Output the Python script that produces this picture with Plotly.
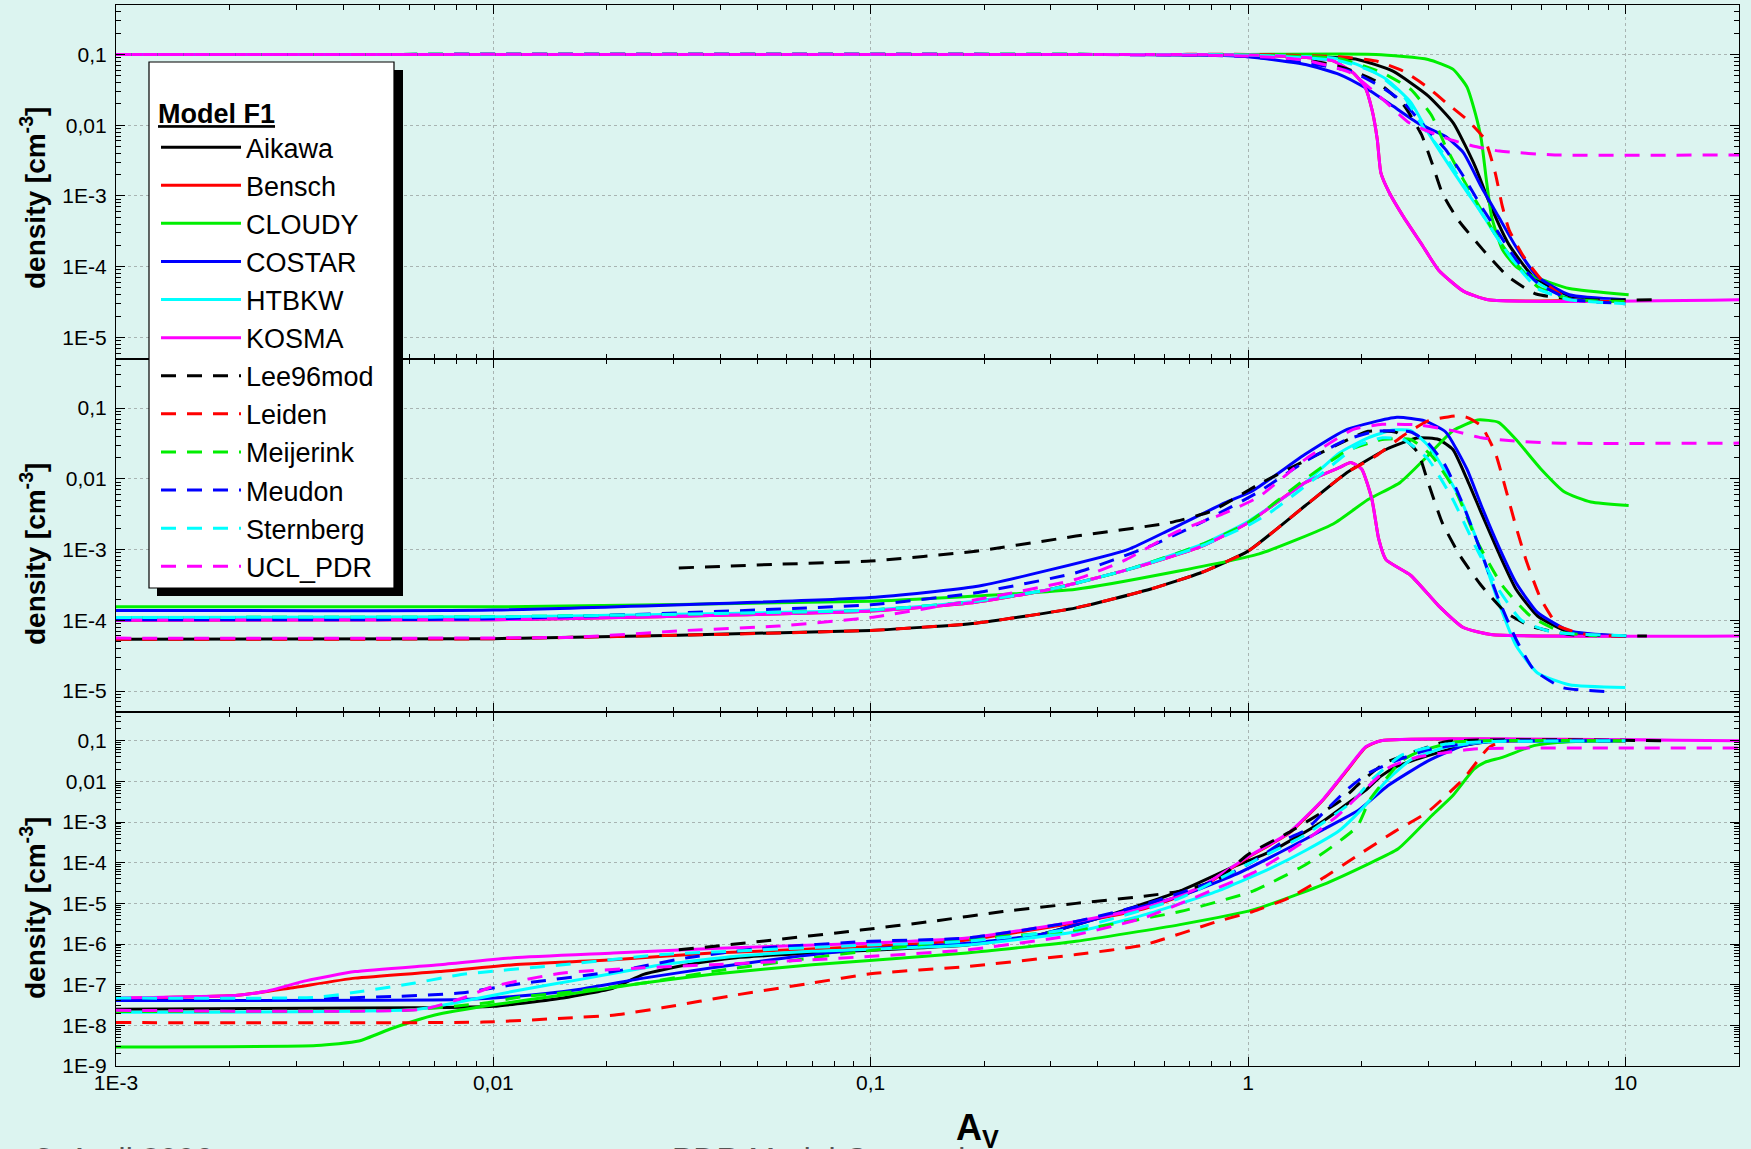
import plotly.graph_objects as go
from plotly.subplots import make_subplots

FONT = "Arial, Liberation Sans, sans-serif"
BG = "#dcf4f0"

MODELS = ["Aikawa", "Bensch", "CLOUDY", "COSTAR", "HTBKW", "KOSMA",
          "Lee96mod", "Leiden", "Meijerink", "Meudon", "Sternberg", "UCL_PDR"]
COLORS = ["#000000", "#ff0000", "#00ee00", "#0000ff", "#00ffff", "#ff00ff",
          "#000000", "#ff0000", "#00ee00", "#0000ff", "#00ffff", "#ff00ff"]
DASHED = [False] * 6 + [True] * 6

X_TICKS = [0.001, 0.01, 0.1, 1, 10]
X_TICKTEXT = ["1E-3", "0,01", "0,1", "1", "10"]
Y_TICKS_TOP = [1e-5, 1e-4, 1e-3, 0.01, 0.1]
Y_TICKTEXT_TOP = ["1E-5", "1E-4", "1E-3", "0,01", "0,1"]
Y_TICKS_BOT = [1e-9, 1e-8, 1e-7, 1e-6, 1e-5, 1e-4, 1e-3, 0.01, 0.1]
Y_TICKTEXT_BOT = ["1E-9", "1E-8", "1E-7", "1E-6", "1E-5", "1E-4", "1E-3", "0,01", "0,1"]

# ---------------- top panel ----------------
top_aikawa_x = [0.001, 0.5, 1.0, 1.5, 1.95, 2.42, 3.0, 3.5, 4.0, 4.4, 4.9, 5.7, 7.1, 10]
top_aikawa_y = [0.1, 0.1, 0.098, 0.093, 0.085, 0.058, 0.026, 0.0107, 2.6e-3, 7.1e-4, 2.1e-4, 7.2e-5, 3.8e-5, 3.4e-5]
top_bensch_x = [0.001, 0.5, 1.0, 1.4, 1.68, 1.9, 2.04, 2.13, 2.2, 2.25, 2.37, 2.58, 2.88, 3.2, 3.72, 4.33, 10]
top_bensch_y = [0.1, 0.1, 0.098, 0.091, 0.081, 0.055, 0.035, 0.0166, 6.3e-3, 2.1e-3, 1.1e-3, 5.1e-4, 2.1e-4, 8.9e-5, 4.5e-5, 3.4e-5, 3.4e-5]
top_cloudy_x = [0.001, 1.0, 2.18, 3.0, 3.49, 3.8, 4.0, 4.15, 4.28, 4.42, 4.72, 5.13, 5.72, 7.1, 10.2]
top_cloudy_y = [0.1, 0.1, 0.1, 0.085, 0.062, 0.035, 0.0148, 6.3e-3, 1.7e-3, 5.1e-4, 1.74e-4, 1.0e-4, 7.2e-5, 4.9e-5, 4.0e-5]
top_costar_x = [0.001, 0.3, 0.74, 1.0, 1.42, 1.75, 2.04, 2.42, 2.82, 3.34, 3.72, 4.15, 4.61, 5.13, 5.85, 7.1, 10]
top_costar_y = [0.1, 0.1, 0.098, 0.093, 0.072, 0.052, 0.034, 0.0186, 0.0107, 6.9e-3, 4.1e-3, 1.35e-3, 5.1e-4, 1.9e-4, 7.2e-5, 4.0e-5, 3.4e-5]
top_htbkw_x = [0.001, 0.5, 1.0, 1.68, 1.95, 2.32, 2.7, 3.0, 3.34, 3.72, 4.15, 4.61, 5.13, 5.85, 7.1, 10]
top_htbkw_y = [0.1, 0.1, 0.098, 0.089, 0.072, 0.045, 0.021, 7.9e-3, 3.2e-3, 1.35e-3, 5.8e-4, 2.4e-4, 1.1e-4, 5.9e-5, 3.5e-5, 3.2e-5]
top_kosma_x = [0.001, 0.5, 1.0, 1.4, 1.68, 1.9, 2.04, 2.13, 2.2, 2.25, 2.37, 2.58, 2.88, 3.2, 3.72, 4.33, 20]
top_kosma_y = [0.1, 0.1, 0.098, 0.091, 0.081, 0.055, 0.035, 0.0166, 6.3e-3, 2.1e-3, 1.1e-3, 5.1e-4, 2.1e-4, 8.9e-5, 4.5e-5, 3.4e-5, 3.4e-5]
top_lee_x = [0.001, 0.5, 1.0, 1.42, 1.79, 2.18, 2.58, 2.88, 3.07, 3.27, 3.6, 4.19, 4.89, 5.8, 7.9, 12.1]
top_lee_y = [0.1, 0.1, 0.098, 0.085, 0.065, 0.042, 0.0195, 7.4e-3, 2.95e-3, 1.1e-3, 4.6e-4, 1.74e-4, 7.2e-5, 4.1e-5, 3.4e-5, 3.4e-5]
top_leiden_x = [0.001, 0.5, 1.0, 1.75, 2.18, 2.58, 3.0, 3.34, 3.8, 4.24, 4.52, 4.72, 4.92, 5.37, 6.1, 7.1, 10]
top_leiden_y = [0.1, 0.1, 0.1, 0.093, 0.081, 0.058, 0.034, 0.021, 0.012, 6.3e-3, 2.1e-3, 7.1e-4, 3.3e-4, 1.4e-4, 5.9e-5, 3.5e-5, 3.2e-5]
top_meij_x = [0.001, 0.5, 1.0, 1.75, 2.27, 2.7, 3.07, 3.34, 3.72, 4.15, 4.61, 5.13, 5.85, 7.1, 10]
top_meij_y = [0.1, 0.1, 0.098, 0.087, 0.055, 0.032, 0.0135, 5.0e-3, 1.7e-3, 6.3e-4, 2.4e-4, 1.1e-4, 5.2e-5, 3.5e-5, 3.2e-5]
top_meudon_x = [0.001, 0.3, 0.74, 1.0, 1.42, 1.87, 2.27, 2.58, 2.94, 3.34, 3.72, 4.15, 4.61, 5.13, 5.85, 7.1, 10]
top_meudon_y = [0.1, 0.1, 0.098, 0.093, 0.076, 0.058, 0.034, 0.021, 9.5e-3, 4.5e-3, 1.9e-3, 7.1e-4, 3.0e-4, 1.26e-4, 5.9e-5, 3.5e-5, 3.0e-5]
top_stern_x = [0.001, 0.5, 1.0, 1.75, 2.18, 2.58, 2.94, 3.34, 3.72, 4.15, 4.61, 5.13, 5.85, 7.1, 10]
top_stern_y = [0.1, 0.1, 0.098, 0.081, 0.055, 0.026, 8.7e-3, 3.6e-3, 1.45e-3, 5.8e-4, 2.4e-4, 1.07e-4, 4.9e-5, 3.4e-5, 3.0e-5]
top_ucl_x = [0.001, 0.3, 0.74, 1.0, 1.42, 1.87, 2.28, 2.68, 3.42, 4.0, 4.64, 6.5, 20]
top_ucl_y = [0.1, 0.1, 0.098, 0.095, 0.083, 0.055, 0.023, 0.0107, 6.3e-3, 5.0e-3, 4.3e-3, 3.8e-3, 3.8e-3]

# ---------------- middle panel ----------------
mid_aikawa_x = [0.001, 0.01, 0.1, 0.19, 0.35, 0.55, 0.75, 1.0, 1.42, 1.83, 2.32, 2.82, 3.2, 3.49, 3.8, 4.15, 4.61, 5.13, 5.85, 7.1, 10]
mid_aikawa_y = [5.4e-5, 5.5e-5, 7.2e-5, 9.1e-5, 1.5e-4, 2.75e-4, 4.7e-4, 9.5e-4, 4.2e-3, 0.0123, 0.026, 0.038, 0.036, 0.026, 0.01, 3.3e-3, 9.1e-4, 2.75e-4, 1.15e-4, 6.8e-5, 6.0e-5]
mid_bensch_x = [0.001, 0.01, 0.1, 0.19, 0.3, 0.48, 0.75, 1.0, 1.42, 1.75, 1.87, 2.0, 2.13, 2.22, 2.32, 2.7, 3.2, 3.72, 4.4, 10]
mid_bensch_y = [1.0e-4, 1.02e-4, 1.35e-4, 1.8e-4, 2.75e-4, 5.2e-4, 1.1e-3, 2.4e-3, 8.9e-3, 0.0145, 0.017, 0.0138, 5.1e-3, 1.4e-3, 7.2e-4, 4.3e-4, 1.6e-4, 7.9e-5, 6.3e-5, 6.0e-5]
mid_cloudy_x = [0.001, 0.01, 0.1, 0.19, 0.35, 0.62, 1.07, 1.68, 2.08, 2.53, 3.0, 3.49, 4.06, 4.61, 5.13, 5.97, 6.9, 8.1, 10.2]
mid_cloudy_y = [1.55e-4, 1.55e-4, 1.86e-4, 2.2e-4, 2.75e-4, 4.7e-4, 8.7e-4, 2.3e-3, 5.1e-3, 8.9e-3, 0.0214, 0.048, 0.068, 0.063, 0.036, 0.0138, 6.5e-3, 4.7e-3, 4.2e-3]
mid_costar_x = [0.001, 0.01, 0.1, 0.19, 0.3, 0.48, 0.62, 0.87, 1.03, 1.42, 1.83, 2.48, 2.94, 3.34, 3.8, 4.15, 4.61, 5.13, 5.85, 7.1, 10]
mid_costar_y = [1.38e-4, 1.4e-4, 2.1e-4, 3.0e-4, 5.2e-4, 1.0e-3, 1.9e-3, 4.6e-3, 6.8e-3, 0.0224, 0.05, 0.074, 0.066, 0.046, 0.0138, 4.2e-3, 1.12e-3, 3.4e-4, 1.29e-4, 7.1e-5, 6.0e-5]
mid_htbkw_x = [0.001, 0.01, 0.1, 0.19, 0.3, 0.48, 0.75, 1.0, 1.42, 1.75, 2.08, 2.42, 2.7, 3.0, 3.34, 3.72, 4.15, 4.61, 5.13, 5.85, 7.1, 10]
mid_htbkw_y = [1.1e-4, 1.12e-4, 1.4e-4, 1.86e-4, 2.75e-4, 5.2e-4, 1.17e-3, 2.5e-3, 8.9e-3, 0.0234, 0.038, 0.049, 0.048, 0.0295, 0.0123, 4.2e-3, 9.1e-4, 1.8e-4, 4.4e-5, 1.8e-5, 1.23e-5, 1.12e-5]
mid_kosma_x = [0.001, 0.01, 0.1, 0.19, 0.3, 0.48, 0.75, 1.0, 1.42, 1.75, 1.87, 2.0, 2.13, 2.22, 2.32, 2.7, 3.2, 3.72, 4.4, 20]
mid_kosma_y = [1.0e-4, 1.02e-4, 1.35e-4, 1.8e-4, 2.75e-4, 5.2e-4, 1.1e-3, 2.4e-3, 8.9e-3, 0.0145, 0.017, 0.0138, 5.1e-3, 1.4e-3, 7.2e-4, 4.3e-4, 1.6e-4, 7.9e-5, 6.3e-5, 6.0e-5]
mid_lee_x = [0.031, 0.057, 0.1, 0.19, 0.35, 0.62, 0.8, 1.09, 1.51, 2.08, 2.48, 2.82, 3.0, 3.27, 3.65, 4.15, 4.82, 5.6, 7.1, 11.4]
mid_lee_y = [5.5e-4, 6.2e-4, 6.9e-4, 9.5e-4, 1.55e-3, 2.4e-3, 3.5e-3, 8.9e-3, 0.0214, 0.047, 0.045, 0.0234, 8.9e-3, 2.4e-3, 8.1e-4, 3.1e-4, 1.29e-4, 8.3e-5, 6.3e-5, 6.0e-5]
mid_leiden_x = [0.001, 0.01, 0.1, 0.19, 0.35, 0.55, 0.75, 1.0, 1.42, 1.83, 2.18, 2.58, 3.0, 3.57, 3.8, 4.15, 4.52, 4.82, 5.13, 5.48, 5.97, 6.65, 7.9, 10]
mid_leiden_y = [5.4e-5, 5.5e-5, 7.2e-5, 9.1e-5, 1.5e-4, 2.75e-4, 4.7e-4, 9.5e-4, 4.2e-3, 0.0123, 0.021, 0.041, 0.066, 0.078, 0.074, 0.056, 0.0234, 7.1e-3, 2.1e-3, 6.6e-4, 2.0e-4, 8.3e-5, 6.3e-5, 6.0e-5]
mid_meij_x = [0.001, 0.01, 0.1, 0.19, 0.3, 0.48, 0.75, 1.0, 1.42, 1.83, 2.27, 2.7, 3.07, 3.57, 4.06, 4.72, 5.6, 6.8, 8.4]
mid_meij_y = [1.1e-4, 1.12e-4, 1.4e-4, 1.86e-4, 2.75e-4, 5.2e-4, 1.17e-3, 2.4e-3, 0.01, 0.025, 0.036, 0.036, 0.021, 6.3e-3, 1.26e-3, 3.1e-4, 1.15e-4, 6.8e-5, 6.0e-5]
mid_meudon_x = [0.001, 0.01, 0.1, 0.19, 0.35, 0.55, 0.75, 1.07, 1.42, 1.83, 2.18, 2.7, 3.0, 3.34, 3.72, 4.15, 4.61, 5.13, 5.72, 6.8, 9.0]
mid_meudon_y = [1.02e-4, 1.05e-4, 1.66e-4, 2.45e-4, 4.7e-4, 1.12e-3, 2.4e-3, 6.6e-3, 0.0178, 0.036, 0.047, 0.046, 0.032, 0.0151, 4.2e-3, 9.1e-4, 2.0e-4, 5.4e-5, 2.0e-5, 1.12e-5, 9.8e-6]
mid_stern_x = [0.001, 0.01, 0.1, 0.19, 0.3, 0.48, 0.75, 1.0, 1.14, 1.58, 1.95, 2.27, 2.58, 3.0, 3.49, 4.0, 4.61, 5.3, 6.4, 10.7]
mid_stern_y = [1.1e-4, 1.12e-4, 1.4e-4, 1.86e-4, 2.75e-4, 5.2e-4, 1.12e-3, 2.2e-3, 3.3e-3, 0.0123, 0.0295, 0.038, 0.036, 0.019, 5.1e-3, 1.12e-3, 2.75e-4, 1.0e-4, 6.8e-5, 6.0e-5]
mid_ucl_x = [0.001, 0.0168, 0.031, 0.057, 0.1, 0.19, 0.35, 0.475, 0.64, 0.87, 1.07, 1.42, 1.9, 2.27, 2.82, 3.49, 4.15, 4.82, 6.4, 20]
mid_ucl_y = [5.6e-5, 5.8e-5, 7.1e-5, 8.3e-5, 1.1e-4, 1.95e-4, 3.8e-4, 7.2e-4, 1.74e-3, 3.3e-3, 5.6e-3, 0.019, 0.05, 0.059, 0.058, 0.048, 0.038, 0.035, 0.032, 0.032]

# ---------------- bottom panel ----------------
bot_aikawa_x = [0.001, 0.0062, 0.01, 0.0153, 0.0208, 0.025, 0.0327, 0.044, 0.07, 0.18, 0.28, 0.43, 0.66, 0.92, 1.15, 1.58, 1.89, 2.06, 2.25, 2.48, 3.0, 3.72, 4.33, 10]
bot_aikawa_y = [2.5e-8, 2.7e-8, 2.95e-8, 4.7e-8, 8.3e-8, 1.8e-7, 3.1e-7, 4.6e-7, 6.0e-7, 9.5e-7, 1.7e-6, 5.2e-6, 2.0e-5, 8.1e-5, 1.9e-4, 1.05e-3, 3.5e-3, 6.3e-3, 0.0135, 0.0234, 0.043, 0.076, 0.095, 0.1]
bot_bensch_x = [0.001, 0.0021, 0.0029, 0.0043, 0.0072, 0.0113, 0.0208, 0.038, 0.1, 0.18, 0.35, 0.53, 0.74, 1.0, 1.28, 1.58, 1.85, 2.05, 2.25, 10]
bot_bensch_y = [4.6e-8, 5.5e-8, 8.3e-8, 1.45e-7, 2.1e-7, 3.1e-7, 4.1e-7, 6.0e-7, 8.7e-7, 1.26e-6, 3.4e-6, 7.4e-6, 2.3e-5, 1.35e-4, 5.2e-4, 3.5e-3, 0.0214, 0.069, 0.1, 0.1]
bot_cloudy_x = [0.001, 0.0034, 0.0044, 0.0054, 0.007, 0.01, 0.0153, 0.025, 0.038, 0.07, 0.18, 0.35, 0.66, 1.03, 1.58, 2.06, 2.5, 3.07, 3.49, 3.97, 4.24, 4.72, 5.72, 7.1, 10]
bot_cloudy_y = [2.95e-9, 3.2e-9, 4.1e-9, 8.5e-9, 1.8e-8, 3.2e-8, 5.6e-8, 1.1e-7, 1.8e-7, 3.1e-7, 6.0e-7, 1.17e-6, 3.0e-6, 6.9e-6, 2.9e-5, 8.9e-5, 2.2e-4, 1.45e-3, 4.5e-3, 0.02, 0.0295, 0.039, 0.076, 0.095, 0.1]
bot_costar_x = [0.001, 0.0083, 0.0113, 0.0168, 0.025, 0.038, 0.06, 0.1, 0.18, 0.28, 0.43, 0.66, 0.92, 1.28, 1.58, 1.97, 2.35, 3.0, 3.72, 4.33, 10]
bot_costar_y = [4.1e-8, 4.3e-8, 5.1e-8, 7.6e-8, 1.45e-7, 2.6e-7, 4.6e-7, 7.6e-7, 1.05e-6, 1.7e-6, 5.2e-6, 1.5e-5, 5.0e-5, 2.3e-4, 6.5e-4, 2.0e-3, 7.9e-3, 0.032, 0.076, 0.095, 0.1]
bot_htbkw_x = [0.001, 0.0062, 0.0083, 0.0113, 0.0178, 0.028, 0.044, 0.07, 0.18, 0.35, 0.53, 0.83, 1.15, 1.42, 1.75, 2.04, 2.32, 2.7, 3.34, 4.33, 10]
bot_htbkw_y = [2.1e-8, 2.45e-8, 3.9e-8, 6.9e-8, 1.45e-7, 3.1e-7, 5.0e-7, 6.6e-7, 9.5e-7, 2.0e-6, 5.2e-6, 2.0e-5, 7.4e-5, 2.0e-4, 6.3e-4, 2.5e-3, 0.01, 0.034, 0.069, 0.095, 0.1]
bot_kosma_x = [0.001, 0.0021, 0.0025, 0.0032, 0.0043, 0.0072, 0.0113, 0.0208, 0.038, 0.1, 0.18, 0.35, 0.53, 0.74, 1.0, 1.28, 1.58, 1.85, 2.05, 2.25, 20]
bot_kosma_y = [4.7e-8, 5.5e-8, 6.9e-8, 1.26e-7, 2.1e-7, 3.1e-7, 4.6e-7, 6.0e-7, 7.8e-7, 1.05e-6, 1.4e-6, 3.6e-6, 7.8e-6, 2.4e-5, 1.4e-4, 5.4e-4, 3.6e-3, 0.0224, 0.071, 0.1, 0.1]
bot_lee_x = [0.031, 0.0515, 0.094, 0.145, 0.224, 0.35, 0.53, 0.66, 0.83, 1.0, 1.28, 1.55, 1.77, 2.0, 2.3, 2.7, 3.34, 12.7]
bot_lee_y = [7.2e-7, 1.17e-6, 2.2e-6, 3.6e-6, 6.3e-6, 1.0e-5, 1.5e-5, 2.0e-5, 3.8e-5, 1.6e-4, 5.5e-4, 1.6e-3, 3.5e-3, 0.01, 0.028, 0.05, 0.095, 0.1]
bot_leiden_x = [0.001, 0.0094, 0.0153, 0.021, 0.028, 0.044, 0.07, 0.1, 0.18, 0.35, 0.53, 0.83, 1.03, 1.28, 1.58, 1.97, 2.45, 3.0, 3.72, 4.33, 4.7, 10]
bot_leiden_y = [1.17e-8, 1.2e-8, 1.5e-8, 1.8e-8, 2.7e-8, 5.6e-8, 1.1e-7, 1.86e-7, 2.8e-7, 5.5e-7, 9.5e-7, 3.6e-6, 6.3e-6, 1.35e-5, 4.2e-5, 1.6e-4, 5.9e-4, 1.8e-3, 0.0115, 0.066, 0.095, 0.1]
bot_meij_x = [0.001, 0.006, 0.0094, 0.012, 0.0153, 0.025, 0.038, 0.07, 0.1, 0.18, 0.35, 0.66, 1.03, 1.42, 1.7, 1.95, 2.1, 2.3, 2.55, 2.84, 3.49, 4.15, 10]
bot_meij_y = [2.2e-8, 2.4e-8, 3.5e-8, 5.1e-8, 6.3e-8, 1.1e-7, 2.1e-7, 4.6e-7, 6.9e-7, 1.3e-6, 2.2e-6, 6.3e-6, 2.0e-5, 8.9e-5, 2.8e-4, 7.9e-4, 3.5e-3, 0.0105, 0.032, 0.054, 0.091, 0.1, 0.1]
bot_meudon_x = [0.001, 0.0034, 0.0054, 0.0083, 0.0113, 0.0208, 0.0327, 0.0515, 0.1, 0.18, 0.35, 0.53, 0.83, 1.03, 1.28, 1.42, 1.58, 1.83, 2.08, 2.48, 3.0, 4.15, 10]
bot_meudon_y = [4.6e-8, 4.6e-8, 5.1e-8, 6.3e-8, 1.0e-7, 2.1e-7, 4.6e-7, 7.9e-7, 1.17e-6, 1.4e-6, 3.6e-6, 9.3e-6, 3.8e-5, 1.07e-4, 4.0e-4, 6.3e-4, 1.66e-3, 6.3e-3, 0.0158, 0.033, 0.06, 0.095, 0.1]
bot_stern_x = [0.001, 0.0034, 0.0045, 0.0062, 0.0083, 0.0153, 0.028, 0.0515, 0.1, 0.18, 0.35, 0.66, 1.03, 1.42, 1.89, 2.15, 2.56, 3.34, 4.33, 10]
bot_stern_y = [4.7e-8, 4.9e-8, 6.9e-8, 1.1e-7, 1.8e-7, 3.1e-7, 5.5e-7, 7.2e-7, 9.5e-7, 1.17e-6, 2.45e-6, 1.35e-5, 1.07e-4, 4.9e-4, 3.2e-3, 0.012, 0.045, 0.083, 0.095, 0.1]
bot_ucl_x = [0.001, 0.0065, 0.0083, 0.01, 0.0153, 0.025, 0.038, 0.07, 0.18, 0.35, 0.53, 0.83, 1.03, 1.42, 1.75, 2.04, 2.37, 2.82, 3.34, 3.97, 20]
bot_ucl_y = [2.35e-8, 2.5e-8, 4.7e-8, 9.1e-8, 1.95e-7, 2.6e-7, 3.1e-7, 4.1e-7, 7.2e-7, 1.7e-6, 4.4e-6, 2.4e-5, 5.6e-5, 3.5e-4, 1.6e-3, 6.3e-3, 0.0224, 0.04, 0.051, 0.063, 0.066]

PANELS = [
    [(top_aikawa_x, top_aikawa_y), (top_bensch_x, top_bensch_y), (top_cloudy_x, top_cloudy_y),
     (top_costar_x, top_costar_y), (top_htbkw_x, top_htbkw_y), (top_kosma_x, top_kosma_y),
     (top_lee_x, top_lee_y), (top_leiden_x, top_leiden_y), (top_meij_x, top_meij_y),
     (top_meudon_x, top_meudon_y), (top_stern_x, top_stern_y), (top_ucl_x, top_ucl_y)],
    [(mid_aikawa_x, mid_aikawa_y), (mid_bensch_x, mid_bensch_y), (mid_cloudy_x, mid_cloudy_y),
     (mid_costar_x, mid_costar_y), (mid_htbkw_x, mid_htbkw_y), (mid_kosma_x, mid_kosma_y),
     (mid_lee_x, mid_lee_y), (mid_leiden_x, mid_leiden_y), (mid_meij_x, mid_meij_y),
     (mid_meudon_x, mid_meudon_y), (mid_stern_x, mid_stern_y), (mid_ucl_x, mid_ucl_y)],
    [(bot_aikawa_x, bot_aikawa_y), (bot_bensch_x, bot_bensch_y), (bot_cloudy_x, bot_cloudy_y),
     (bot_costar_x, bot_costar_y), (bot_htbkw_x, bot_htbkw_y), (bot_kosma_x, bot_kosma_y),
     (bot_lee_x, bot_lee_y), (bot_leiden_x, bot_leiden_y), (bot_meij_x, bot_meij_y),
     (bot_meudon_x, bot_meudon_y), (bot_stern_x, bot_stern_y), (bot_ucl_x, bot_ucl_y)],
]

W, H = 1751, 1149
ML, MR, MT, MB = 116, 12, 5, 83
PW, PH = W - ML - MR, H - MT - MB


def px_x(p):
    return (p - ML) / PW


def px_y(p):
    return (H - MB - p) / PH


fig = make_subplots(rows=3, cols=1, shared_xaxes=True, vertical_spacing=0)

for r, panel in enumerate(PANELS, start=1):
    for i, (xs, ys) in enumerate(panel):
        fig.add_trace(go.Scatter(
            x=xs, y=ys, mode="lines", name=MODELS[i], legendgroup=MODELS[i],
            showlegend=(r == 1),
            line=dict(color=COLORS[i], width=3,
                      dash="15px,11px" if DASHED[i] else "solid",
                      shape="spline", smoothing=0.5),
        ), row=r, col=1)

minor_x = [k * 10.0 ** e for e in range(-3, 2) for k in range(2, 10)]
minor_y = [k * 10.0 ** e for e in range(-10, 0) for k in range(2, 10)]

common_axis = dict(
    showline=True, linecolor="black", linewidth=1.2, mirror="allticks",
    ticks="inside", ticklen=9, tickwidth=1.2, tickcolor="black",
    showgrid=True, gridcolor="#a8b4b2", griddash="dot", gridwidth=1,
    zeroline=False, automargin=False,
    tickfont=dict(family=FONT, size=21, color="black"),
)

for r in range(1, 4):
    fig.update_xaxes(
        type="log", range=[-3, 1.30103], tickmode="array",
        tickvals=X_TICKS, ticktext=X_TICKTEXT, showticklabels=(r == 3),
        ticklabelstandoff=-2,
        minor=dict(ticks="inside", ticklen=5, tickwidth=1, tickcolor="black",
                   tickmode="array", tickvals=minor_x, showgrid=False),
        row=r, col=1, **common_axis)
    if r < 3:
        yr, tv, tt = [-5.30103, -0.30103], Y_TICKS_TOP, Y_TICKTEXT_TOP
    else:
        yr, tv, tt = [-9, -0.30103], Y_TICKS_BOT, Y_TICKTEXT_BOT
    fig.update_yaxes(
        type="log", range=yr, tickmode="array", tickvals=tv, ticktext=tt,
        ticklabelstandoff=4,
        minor=dict(ticks="inside", ticklen=5, tickwidth=1, tickcolor="black",
                   tickmode="array", tickvals=minor_y, showgrid=False),
        row=r, col=1, **common_axis)

annotations = []
for py in (180, 536, 890):
    annotations.append(dict(
        text="<b>density [cm<sup>-3</sup>]</b>", textangle=-90,
        xref="paper", yref="paper", x=px_x(33), y=px_y(py + 18),
        xanchor="center", yanchor="middle", showarrow=False,
        font=dict(family=FONT, size=28, color="black")))
annotations.append(dict(
    text="<b>A<sub>V</sub></b>", xref="paper", yref="paper",
    x=px_x(977), y=px_y(1105), xanchor="center", yanchor="top", showarrow=False,
    font=dict(family=FONT, size=36, color="black")))
annotations.append(dict(
    text="3. April 2006", xref="paper", yref="paper",
    x=px_x(33), y=px_y(1139), xanchor="left", yanchor="top", showarrow=False,
    font=dict(family=FONT, size=32, color="#555555")))
annotations.append(dict(
    text="PDR Model Comparison", xref="paper", yref="paper",
    x=px_x(670), y=px_y(1139), xanchor="left", yanchor="top", showarrow=False,
    font=dict(family=FONT, size=32, color="#555555")))

# legend frame: drop shadow + white box
shapes = [
    dict(type="rect", xref="paper", yref="paper",
         x0=px_x(157), x1=px_x(403), y0=px_y(596), y1=px_y(70),
         fillcolor="black", line=dict(width=0), layer="above"),
    dict(type="rect", xref="paper", yref="paper",
         x0=px_x(149), x1=px_x(394), y0=px_y(588), y1=px_y(62),
         fillcolor="white", line=dict(width=1.2, color="black"), layer="above"),
]

fig.update_layout(
    width=W, height=H,
    margin=dict(l=ML, r=MR, t=MT, b=MB, pad=0, autoexpand=False),
    paper_bgcolor=BG, plot_bgcolor=BG,
    font=dict(family=FONT, color="black"),
    annotations=annotations, shapes=shapes,
    legend=dict(
        x=px_x(156), y=px_y(88), xanchor="left", yanchor="top",
        bgcolor="rgba(0,0,0,0)", borderwidth=0,
        font=dict(family=FONT, size=27, color="black"),
        title=dict(text="<b><u>Model F1</u></b>", font=dict(family=FONT, size=27)),
        itemwidth=80, tracegroupgap=0, traceorder="normal",
    ),
)

fig.write_html("out.html", config={"displayModeBar": False},
               post_script="document.body.style.margin='0px';")
